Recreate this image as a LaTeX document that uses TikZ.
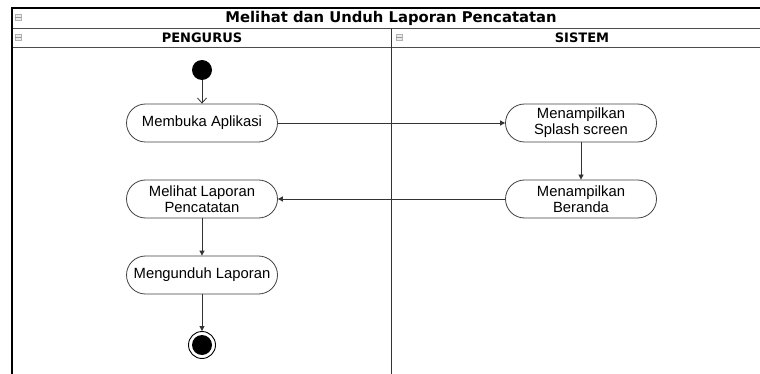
\documentclass[tikz,border=0pt]{standalone}
\usepackage{fontspec}
\setmainfont{Liberation Sans}
\newfontfamily\titlefont{DejaVu Sans}
\usetikzlibrary{arrows.meta}
\begin{document}
\begin{tikzpicture}[x=1pt,y=-1pt,
  act/.style={draw=black!75,rounded corners=19pt,minimum width=151pt,minimum height=38pt,align=center,font=\fontsize{14.8}{16}\selectfont,inner sep=0pt,line width=0.8pt},
  flow/.style={draw=black!80,line width=0.8pt,-{Triangle[length=5pt,width=5pt]}},
  icon/.style={draw=black!30,fill=black!8,minimum width=6pt,minimum height=6pt,inner sep=0pt,line width=0.5pt}]
\useasboundingbox (0,0) rectangle (760,374);
% frame
\draw[black!70,line width=0.8pt] (12,28) -- (760,28);
\draw[black!70,line width=0.8pt] (12,47) -- (760,47);
\draw[black!80,line width=0.9pt] (391,28) -- (391,374);
\draw[black,line width=2.2pt] (12,374) -- (12,8) -- (760,8);
% icons
\node[icon] (i1) at (18,17) {};
\node[icon] (i2) at (18,37) {};
\node[icon] (i3) at (399,37) {};
\draw[black!40,line width=0.4pt] (i1.west) -- (i1.east) (i2.west) -- (i2.east) (i3.west) -- (i3.east);
% headers
\node[font=\titlefont\bfseries\fontsize{14.8}{16}\selectfont] (title) at (391,18) {Melihat dan Unduh Laporan Pencatatan};
\node[font=\titlefont\bfseries\fontsize{13}{15}\selectfont] (l1) at (202,38) {PENGURUS};
\node[font=\titlefont\bfseries\fontsize{13}{15}\selectfont] (l2) at (582,38) {SISTEM};
% nodes
\node[circle,fill=black,minimum size=20pt,inner sep=0pt] (start) at (202,70) {};
\node[act] (a1) at (202,123) {Membuka Aplikasi};
\node[act] (s1) at (581,123) {Menampilkan\\Splash screen};
\node[act] (s2) at (581,199) {Menampilkan\\Beranda};
\node[act] (a2) at (202,199) {Melihat Laporan\\Pencatatan};
\node[act] (a3) at (202,275) {Mengunduh Laporan};
\node[circle,draw=black,line width=0.9pt,minimum size=27pt,inner sep=0pt] (end) at (202,345) {};
\node[circle,fill=black,minimum size=20pt,inner sep=0pt] (endin) at (202,345) {};
% edges
\draw[draw=black!80,line width=0.8pt,-{Straight Barb[length=5pt,width=9pt]}] (start) -- (a1);
\draw[flow] (a1) -- (s1);
\draw[flow] (s1) -- (s2);
\draw[flow] (s2) -- (a2);
\draw[flow] (a2) -- (a3);
\draw[flow] (a3) -- (end);
\end{tikzpicture}
\end{document}
